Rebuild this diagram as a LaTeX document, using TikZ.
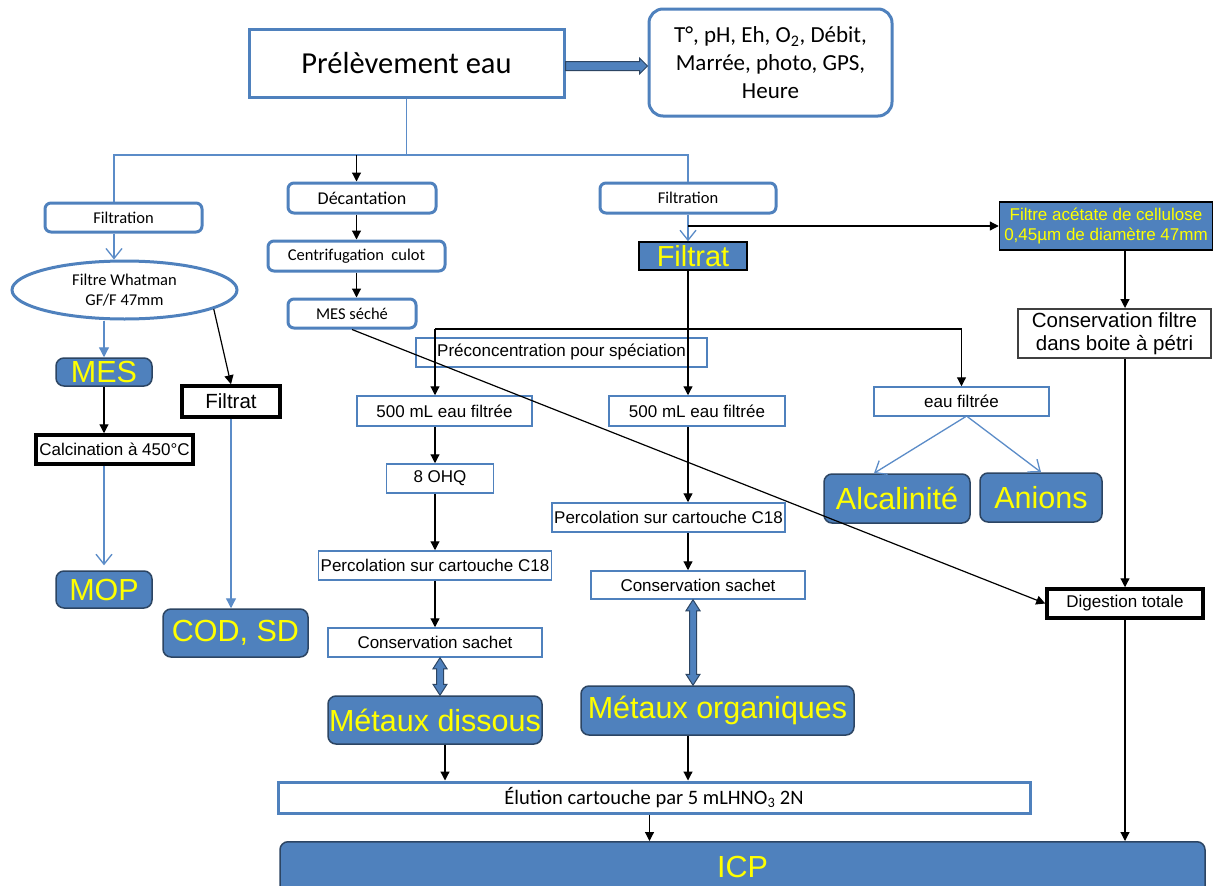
\documentclass[tikz,border=0pt]{standalone}
\usepackage{fontspec}
\setmainfont{Liberation Sans}
\newfontfamily\calfont{Carlito}
\usetikzlibrary{arrows.meta,shapes.geometric,calc}

\definecolor{fillblue}{HTML}{4F81BD}
\definecolor{navy}{HTML}{2C4563}
\definecolor{boxblue}{HTML}{4F81BD}
\definecolor{lineblue}{HTML}{5B8CC8}
\definecolor{ygold}{HTML}{FFFF00}
\definecolor{greyline}{HTML}{404040}

\newcommand\fsz[2]{\fontsize{#1}{#2}\selectfont}

% vertical two-headed block arrow between two points
\newcommand\dblockarrow[2]{%
  \path[draw=navy, fill=fillblue, line width=1pt, line join=miter]
    let \p1=(#1), \p2=(#2) in
    (\x1,\y1) -- (\x1+7pt,\y1-11pt) -- (\x1+3.5pt,\y1-11pt) -- (\x1+3.5pt,\y2+11pt)
    -- (\x1+7pt,\y2+11pt) -- (\x1,\y2) -- (\x1-7pt,\y2+11pt) -- (\x1-3.5pt,\y2+11pt)
    -- (\x1-3.5pt,\y1-11pt) -- (\x1-7pt,\y1-11pt) -- cycle;}

% horizontal one-headed block arrow
\newcommand\hblockarrow[2]{%
  \path[draw=navy, fill=fillblue, line width=1pt, line join=miter]
    let \p1=(#1), \p2=(#2) in
    (\x1,\y1+4.5pt) -- (\x2-8pt,\y1+4.5pt) -- (\x2-8pt,\y1+8pt) -- (\x2,\y1)
    -- (\x2-8pt,\y1-8pt) -- (\x2-8pt,\y1-4.5pt) -- (\x1,\y1-4.5pt) -- cycle;}

\tikzset{
  rbox/.style={draw=boxblue, line width=3pt, rounded corners=6pt, fill=white,
    inner sep=0pt, font=\calfont\fsz{16.5}{20}},
  tbox/.style={draw=boxblue, line width=1.5pt, fill=white, inner sep=0pt,
    font=\fsz{17}{20}},
  kbox/.style={draw=black, line width=3.5pt, fill=white, inner sep=0pt},
  fbox/.style={draw=navy, line width=1.5pt, fill=fillblue, rounded corners=8pt,
    text=ygold, inner sep=0pt, font=\fsz{30.5}{34}},
  sbox/.style={draw=black, line width=1.5pt, fill=fillblue, text=ygold,
    inner sep=0pt},
  barrow/.style={draw=black, line width=1.2pt, -{Triangle[width=9pt,length=9pt]}},
  bline/.style={draw=lineblue, line width=1.3pt},
  bopen/.style={bline, -{Straight Barb[width=16pt,length=10pt,line width=1.3pt]}},
  bfill/.style={bline, -{Triangle[width=10pt,length=10pt]}},
}

\begin{document}
\begin{tikzpicture}[x=1pt,y=-1pt]
\useasboundingbox (0,0) rectangle (1213,886);
\clip (0,0) rectangle (1213,886);
\fill[white] (0,0) rectangle (1213,886);

% ---- top
\node[draw=boxblue, line width=3pt, fill=white, minimum width=315, minimum height=68,
  inner sep=0pt, font=\calfont\fsz{30.5}{34}] (pe) at (406.5,63) {Prélèvement eau};
\node[draw=boxblue, line width=3pt, fill=white, rounded corners=14pt, minimum width=243,
  minimum height=107, inner sep=0pt, align=center, font=\calfont\fsz{23}{28}]
  (tp) at (770.5,62.5) {T°, pH, Eh, O\textsubscript{2}, Débit,\\Marrée, photo, GPS,\\Heure};

% ---- left column
\node[rbox, minimum width=157, minimum height=29] (fl) at (123.5,217.5) {Filtration};
\node[ellipse, draw=boxblue, line width=3pt, fill=white, minimum width=225, minimum height=58,
  inner sep=0pt, align=center, font=\calfont\fsz{16.5}{20.5}] (wh) at (124.5,290)
  {Filtre Whatman\\GF/F 47mm};
\node[fbox, minimum width=96, minimum height=28] (mes) at (104,372) {MES};
\node[kbox, minimum width=98, minimum height=31, font=\fsz{20.5}{24}] (ff) at (231,401.5) {Filtrat};
\node[kbox, minimum width=157, minimum height=29, font=\fsz{17}{20}] (calc) at (114.5,449.5)
  {Calcination à 450°C};
\node[fbox, minimum width=96, minimum height=37] (mop) at (104,589.5) {MOP};
\node[fbox, minimum width=145, minimum height=48] (cod) at (235.5,633) {COD, SD};

% ---- decantation branch
\node[rbox, minimum width=148, minimum height=30, font=\calfont\fsz{18}{21}] (dec) at (362,198) {Décantation};
\node[rbox, minimum width=177, minimum height=30] (cen) at (356.5,256) {Centrifugation\ \ culot};
\node[rbox, minimum width=128, minimum height=29] (mess) at (352,313.5) {MES séché};

% ---- filtration branch
\node[rbox, minimum width=176, minimum height=30] (fr) at (688,198) {Filtration};
\node[sbox, minimum width=108, minimum height=28, font=\fsz{29}{32}] (fb) at (693,256) {Filtrat};
\node[sbox, minimum width=213, minimum height=48, align=center, font=\fsz{17}{19.5}]
  (fa) at (1106,226) {Filtre acétate de cellulose\\0,45µm de diamètre 47mm};
\node[draw=greyline, line width=2pt, fill=white, minimum width=193, minimum height=49,
  inner sep=0pt, align=center, font=\fsz{20.5}{22.5}] (cf) at (1114.5,333.5)
  {Conservation filtre\\dans boite à pétri};
\node[kbox, minimum width=156, minimum height=29, font=\fsz{17}{20}] (dig) at (1125,603.5)
  {Digestion totale};

\node[tbox, minimum width=291, minimum height=29] (pre) at (561.5,352.5)
  {Préconcentration pour spéciation};
\node[tbox, minimum width=175, minimum height=30] (pm1) at (444.5,411) {500 mL eau filtrée};
\node[tbox, minimum width=176, minimum height=30] (pm2) at (697,411) {500 mL eau filtrée};
\node[tbox, minimum width=175, minimum height=29] (ef) at (961.5,401.5) {eau filtrée};
\node[fbox, minimum width=146, minimum height=49] (alc) at (897,498.5) {Alcalinité};
\node[fbox, minimum width=122, minimum height=49] (ani) at (1041,497.5) {Anions};

\node[tbox, minimum width=107, minimum height=29] (ohq) at (440,478.5) {8 OHQ};
\node[tbox, minimum width=233, minimum height=29] (pc1) at (435,565.5) {Percolation sur cartouche C18};
\node[tbox, minimum width=214, minimum height=29] (cs1) at (435,642.5) {Conservation sachet};
\node[tbox, minimum width=233, minimum height=29] (pc2) at (668.5,517.5) {Percolation sur cartouche C18};
\node[tbox, minimum width=214, minimum height=28] (cs2) at (698,585) {Conservation sachet};

\node[fbox, minimum width=214, minimum height=48] (md) at (435,720) {Métaux dissous};
\node[fbox, minimum width=273, minimum height=49] (mo) at (717.5,710.5) {Métaux organiques};

\node[draw=boxblue, line width=3pt, fill=white, minimum width=752, minimum height=31,
  inner sep=0pt, font=\calfont\fsz{20.5}{24}] (el) at (654,797.5)
  {Élution cartouche par 5 mLHNO\textsubscript{3} 2N};
\node[fbox, anchor=north, minimum width=925, minimum height=0pt, text height=36pt,
  text depth=34pt] (icp) at (742.5,841) {ICP};

% ---- connectors
\coordinate (br) at (406.5,155);
\coordinate (flx) at (114,155);
\coordinate (rl) at (435,329);

\hblockarrow{[yshift=-3pt]pe.east}{[yshift=-3pt]tp.west}

\draw[bline] (pe.south) -- (br);
\draw[bline] (flx |- fl.north) -- (flx) -| (fr.north);
\draw[barrow] (cen.north |- br) -- (cen.north |- dec.north);
\draw[barrow] (cen.north |- dec.south) -- (cen.north);
\draw[barrow] (cen.south) -- (cen.south |- mess.north);

\draw[bopen] (flx |- fl.south) -- (flx |- wh.north);
\draw[bfill] (mes.north |- wh.south) -- (mes.north);
\draw[barrow] (wh.-12) -- (ff.north);
\draw[barrow] (mes.south) -- (mes.south |- calc.north);
\draw[bopen] (mop.north |- calc.south) -- ([yshift=5pt]mop.north);
\draw[bfill] (ff.south) -- (ff.south |- cod.north);

\draw[bopen] (fr.south) -- (fr.south |- fb.north);
\draw[barrow] (fr.south |- fa.west) -- (fa.west);
\draw[barrow] (dig.north |- fa.south) -- (dig.north |- cf.north);
\draw[barrow] (dig.north |- cf.south) -- (dig.north);
\draw[barrow] (dig.south) -- (dig.south |- icp.north);

\draw[barrow] (fr.south |- fb.south) -- (fr.south |- pm2.north);
\draw[barrow] (rl) -- (rl |- pm1.north);
\draw[barrow] (rl) -| (ef.north);
\draw[barrow] (rl |- pm1.south) -- (rl |- ohq.north);
\draw[barrow] (rl |- ohq.south) -- (pc1.north);
\draw[barrow] (pc1.south) -- (cs1.north);
\dblockarrow{[xshift=5pt]cs1.south}{[xshift=5pt]md.north}
\draw[barrow] ([xshift=10pt]md.south) -- ([xshift=10pt]md.south |- el.north);

\draw[barrow] (fr.south |- pm2.south) -- (fr.south |- pc2.north);
\draw[barrow] (fr.south |- pc2.south) -- (fr.south |- cs2.north);
\dblockarrow{[xshift=-5pt]cs2.south}{[xshift=-5pt]mo.north}
\draw[barrow] (fr.south |- mo.south) -- (fr.south |- el.north);
\draw[barrow] ([xshift=-4.5pt]el.south) -- ([xshift=-4.5pt]el.south |- icp.north);

\draw[bopen] ([xshift=4pt]ef.south) -- ([xshift=-23pt]alc.north);
\draw[bopen] ([xshift=6pt]ef.south) -- (ani.north);

\draw[barrow] (mess.south) -- (dig.west);
\end{tikzpicture}
\end{document}
